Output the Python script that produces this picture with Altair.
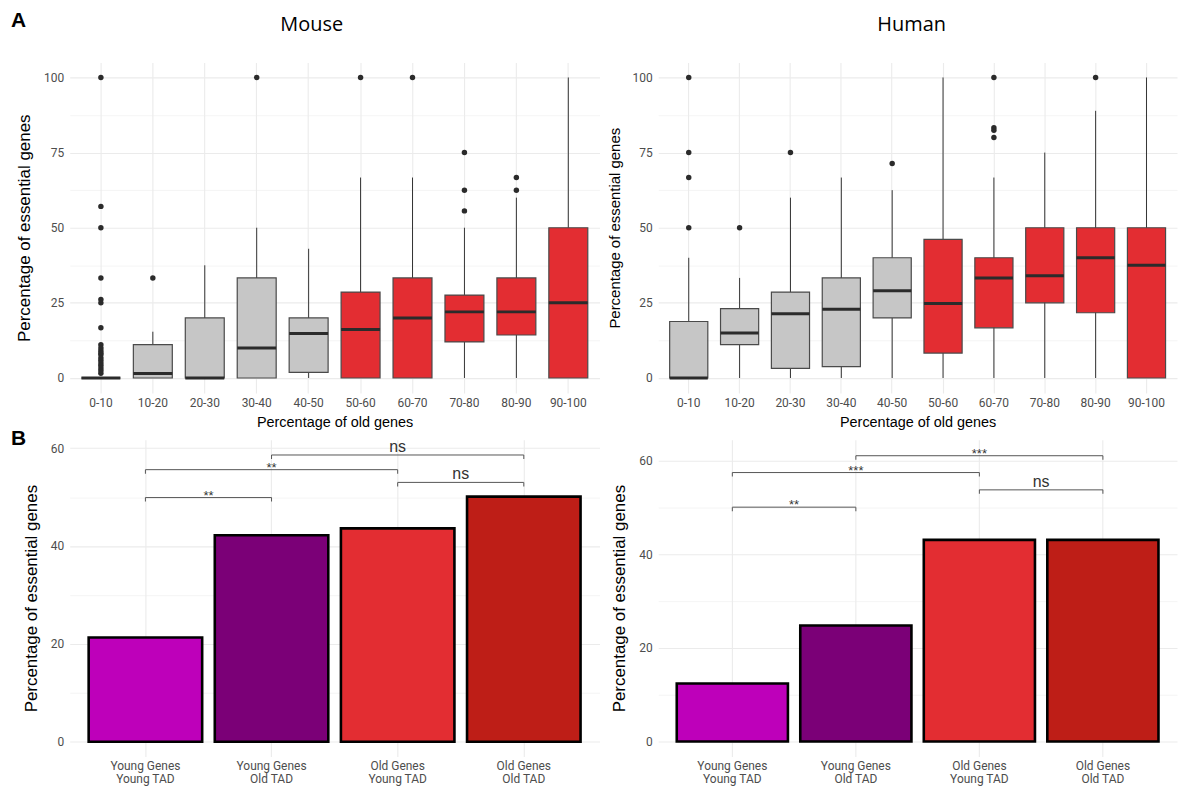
import altair as alt
import pandas as pd

# ---------------- data ----------------
bins = ["0-10", "10-20", "20-30", "30-40", "40-50", "50-60", "60-70", "70-80", "80-90", "90-100"]
bin_group = ["young", "young", "young", "young", "young", "old", "old", "old", "old", "old"]

mouse_lower = [0, 0, 0, 0, 0, 0, 0, 0, 0, 0]
mouse_q1 = [0, 0, 0, 0, 1.9, 0, 0, 12.0, 14.3, 0]
mouse_median = [0, 1.5, 0, 10.0, 14.8, 16.1, 20.0, 22.0, 22.0, 25.0]
mouse_q3 = [0, 11.1, 20.0, 33.3, 20.0, 28.6, 33.3, 27.6, 33.3, 50.0]
mouse_upper = [0, 15.4, 37.5, 50.0, 43.0, 66.7, 66.7, 50.0, 60.0, 100.0]
mouse_out_bin = ["0-10"] * 19 + ["10-20", "30-40", "50-60", "60-70", "70-80", "70-80", "70-80", "80-90", "80-90"]
mouse_out_val = [100, 57.1, 50, 33.3, 26.1, 25, 16.7, 11.1, 10, 9.1, 8.3, 7.7, 6.7, 5.9, 5.0, 4.2, 3.3, 2.5, 1.6,
                 33.3, 100, 100, 100, 75, 62.5, 55.6, 66.7, 62.5]

human_lower = [0, 0, 0, 0, 0, 0, 0, 0, 0, 0]
human_q1 = [0, 11.1, 3.2, 3.8, 20.0, 8.3, 16.7, 25.0, 21.7, 0]
human_median = [0, 15.0, 21.4, 22.9, 29.0, 24.8, 33.3, 34.0, 40.0, 37.5]
human_q3 = [18.8, 23.1, 28.6, 33.3, 40.0, 46.1, 40.0, 50.0, 50.0, 50.0]
human_upper = [40.0, 33.3, 60.0, 66.7, 62.5, 100.0, 66.7, 75.0, 88.9, 100.0]
human_out_bin = ["0-10", "0-10", "0-10", "0-10", "10-20", "20-30", "40-50", "60-70", "60-70", "60-70", "60-70", "80-90"]
human_out_val = [100, 75, 66.7, 50, 50, 75, 71.4, 100, 83.3, 82.4, 80, 100]

tad_groups = ["Young Genes\nYoung TAD", "Young Genes\nOld TAD", "Old Genes\nYoung TAD", "Old Genes\nOld TAD"]
mouse_pct = [21.3, 42.2, 43.6, 50.1]
human_pct = [12.4, 24.8, 43.1, 43.1]

sig_start = [1, 1, 2, 3]
sig_end = [2, 3, 4, 4]
mouse_sig_y = [49.9, 55.6, 58.6, 53.0]
mouse_sig_label = ["**", "**", "ns", "ns"]
human_sig_y = [50.1, 57.5, 61.1, 53.8]
human_sig_label = ["**", "***", "***", "ns"]

# ---------------- style ----------------
SANS = "Liberation Sans"
NARROW = "Roboto"
TITLEF = "Open Sans"
GRID = "#EBEBEB"
LABC = "#4D4D4D"
GREY = "#C6C6C6"
RED = "#E32D32"
BAR_COLORS = ["#BE00BA", "#7B0077", "#E32D32", "#BE1E17"]


def box_panel(lower, q1, med, q3, upper, out_bin, out_val, title, dx, width, height, ytitle_size):
    stats = pd.DataFrame({"bin": bins, "grp": bin_group, "lower": lower, "q1": q1,
                          "median": med, "q3": q3, "upper": upper})
    outl = pd.DataFrame({"bin": out_bin, "value": out_val})
    xax = alt.Axis(title="Percentage of old genes", labelAngle=0, bandPosition=0.5, ticks=False, tickSize=0,
                   domain=False, grid=True, gridColor=GRID, gridWidth=1.1, labelPadding=5,
                   labelFont=NARROW, labelFontSize=12, labelColor=LABC, titleFont=SANS,
                   titleFontSize=14.5, titleFontWeight="normal", titleColor="#000", titlePadding=7)
    xsc = alt.Scale(domain=bins, paddingInner=0.25, paddingOuter=0.225)
    ysc = alt.Scale(domain=[-5, 105], nice=False, zero=False)
    yax = alt.Axis(title="Percentage of essential genes", values=[0, 12.5, 25, 37.5, 50, 62.5, 75, 87.5, 100],
                   labelExpr="datum.value % 25 === 0 ? datum.label : ''", labelOverlap=False,
                   ticks=False, tickSize=0, domain=False, grid=True, gridColor=GRID,
                   gridWidth={"condition": {"test": "datum.value % 25 === 0", "value": 1.1}, "value": 0.55},
                   labelPadding=6, labelFont=NARROW, labelFontSize=12, labelColor=LABC,
                   titleFont=SANS, titleFontSize=ytitle_size, titleFontWeight="normal", titleColor="#000",
                   titlePadding=10)
    X = alt.X("bin:N", scale=xsc, axis=xax)
    whisk = alt.Chart(stats).mark_rule(color="#333333", strokeWidth=1).encode(
        x=X, y=alt.Y("lower:Q", scale=ysc, axis=yax), y2=alt.Y2("upper"))
    box = alt.Chart(stats).mark_bar(stroke="#4A4A4A", strokeWidth=1.2).encode(
        x=X, y=alt.Y("q1:Q", scale=ysc, axis=yax), y2=alt.Y2("q3"),
        color=alt.Color("grp:N", scale=alt.Scale(domain=["young", "old"], range=[GREY, RED]), legend=None))
    medl = alt.Chart(stats).mark_tick(color="#2B2B2B", thickness=3, opacity=1).encode(
        x=X, y=alt.Y("median:Q", scale=ysc, axis=yax))
    pts = alt.Chart(outl).mark_circle(size=30, color="#2B2B2B", opacity=1).encode(
        x=X, y=alt.Y("value:Q", scale=ysc, axis=yax))
    return alt.layer(whisk, box, medl, pts).properties(
        width=width, height=height,
        title=alt.TitleParams(title, font=TITLEF, fontSize=20, fontWeight="normal", color="#000",
                              anchor="middle", offset=28, dx=dx))


def bar_panel(pct, sig_y, sig_label, ydomain, width, height, extra=None):
    bars_df = pd.DataFrame({"group": tad_groups, "pct": pct})
    sig_df = pd.DataFrame({"start": sig_start, "end": sig_end, "y": sig_y, "label": sig_label})
    xax = alt.Axis(title=None, labelAngle=0, bandPosition=0.5, ticks=False, tickSize=0, domain=False,
                   grid=True, gridColor=GRID, gridWidth=1.1, labelPadding=4,
                   labelExpr="split(datum.label, '\\n')", labelLineHeight=13,
                   labelFont=NARROW, labelFontSize=12, labelColor=LABC)
    xsc = alt.Scale(domain=tad_groups, paddingInner=0.1, paddingOuter=0.15)
    ysc = alt.Scale(domain=ydomain, nice=False, zero=False)
    yax = alt.Axis(title="Percentage of essential genes", values=[0, 10, 20, 30, 40, 50, 60],
                   labelExpr="datum.value % 20 === 0 ? datum.label : ''", labelOverlap=False,
                   ticks=False, tickSize=0, domain=False, grid=True, gridColor=GRID,
                   gridWidth={"condition": {"test": "datum.value % 20 === 0", "value": 1.1}, "value": 0.55},
                   labelPadding=6, labelFont=NARROW, labelFontSize=12, labelColor=LABC,
                   titleFont=SANS, titleFontSize=17, titleFontWeight="normal", titleColor="#000",
                   titlePadding=10)
    bars = alt.Chart(bars_df).mark_bar(stroke="#000", strokeWidth=2.6).encode(
        x=alt.X("group:N", scale=xsc, axis=xax),
        y=alt.Y("pct:Q", scale=ysc, axis=yax), y2=alt.datum(0),
        color=alt.Color("group:N", scale=alt.Scale(domain=tad_groups, range=BAR_COLORS), legend=None))
    qsc = alt.Scale(domain=[0.4, 4.6], nice=False, zero=False)
    Yq = alt.Y("y:Q", scale=ysc, axis=yax)
    sig = alt.Chart(sig_df)
    hline = sig.mark_rule(color="#555555", strokeWidth=1).encode(
        x=alt.X("start:Q", scale=qsc, axis=None), x2=alt.X2("end"), y=Yq)
    tip1 = sig.mark_tick(orient="vertical", size=4, thickness=1, yOffset=2, color="#555555", opacity=1).encode(
        x=alt.X("start:Q", scale=qsc, axis=None), y=Yq)
    tip2 = sig.mark_tick(orient="vertical", size=4, thickness=1, yOffset=2, color="#555555", opacity=1).encode(
        x=alt.X("end:Q", scale=qsc, axis=None), y=Yq)
    txt_ns = sig.transform_filter("datum.label === 'ns'").transform_calculate(
        mid="(datum.start + datum.end) / 2").mark_text(
        font=SANS, fontSize=16, color="#333333", baseline="alphabetic", dy=-3).encode(
        x=alt.X("mid:Q", scale=qsc, axis=None), y=Yq, text="label:N")
    txt_st = sig.transform_filter("datum.label !== 'ns'").transform_calculate(
        mid="(datum.start + datum.end) / 2").mark_text(
        font=SANS, fontSize=13, color="#333333", baseline="alphabetic", dy=2).encode(
        x=alt.X("mid:Q", scale=qsc, axis=None), y=Yq, text="label:N")
    layers = [bars, hline, tip1, tip2, txt_ns, txt_st]
    if extra:
        layers += extra
    return alt.layer(*layers).resolve_scale(x="independent").properties(width=width, height=height)


tag_a = alt.Chart(pd.DataFrame({"tag": ["A"]})).mark_text(
    font=SANS, fontSize=21, fontWeight="bold", align="left", baseline="middle", color="#000").encode(
    text="tag:N", x=alt.value(-59), y=alt.value(-421))
tag_b = alt.Chart(pd.DataFrame({"tag": ["B"]})).mark_text(
    font=SANS, fontSize=21, fontWeight="bold", align="left", baseline="middle", color="#000").encode(
    text="tag:N", x=alt.value(-59), y=alt.value(-1))

tl = box_panel(mouse_lower, mouse_q1, mouse_median, mouse_q3, mouse_upper, mouse_out_bin, mouse_out_val,
               "Mouse", -23, 532, 332, 17)
tr = box_panel(human_lower, human_q1, human_median, human_q3, human_upper, human_out_bin, human_out_val,
               "Human", -6, 521, 332, 15)
bl = bar_panel(mouse_pct, mouse_sig_y, mouse_sig_label, [-3, 61.7], 532, 318, extra=[tag_a, tag_b])
br = bar_panel(human_pct, human_sig_y, human_sig_label, [-3.2, 64.5], 521, 318)

chart = alt.concat(tl, tr, bl, br, columns=2, spacing={"row": 47, "column": 59},
                   bounds="flush", align="each").properties(
    padding={"left": 3, "top": 0, "right": 1, "bottom": 0}
).resolve_scale(color="independent").configure(font=SANS).configure_view(strokeWidth=0)

chart.save("out.html", embed_options={"renderer": "svg", "actions": False})
